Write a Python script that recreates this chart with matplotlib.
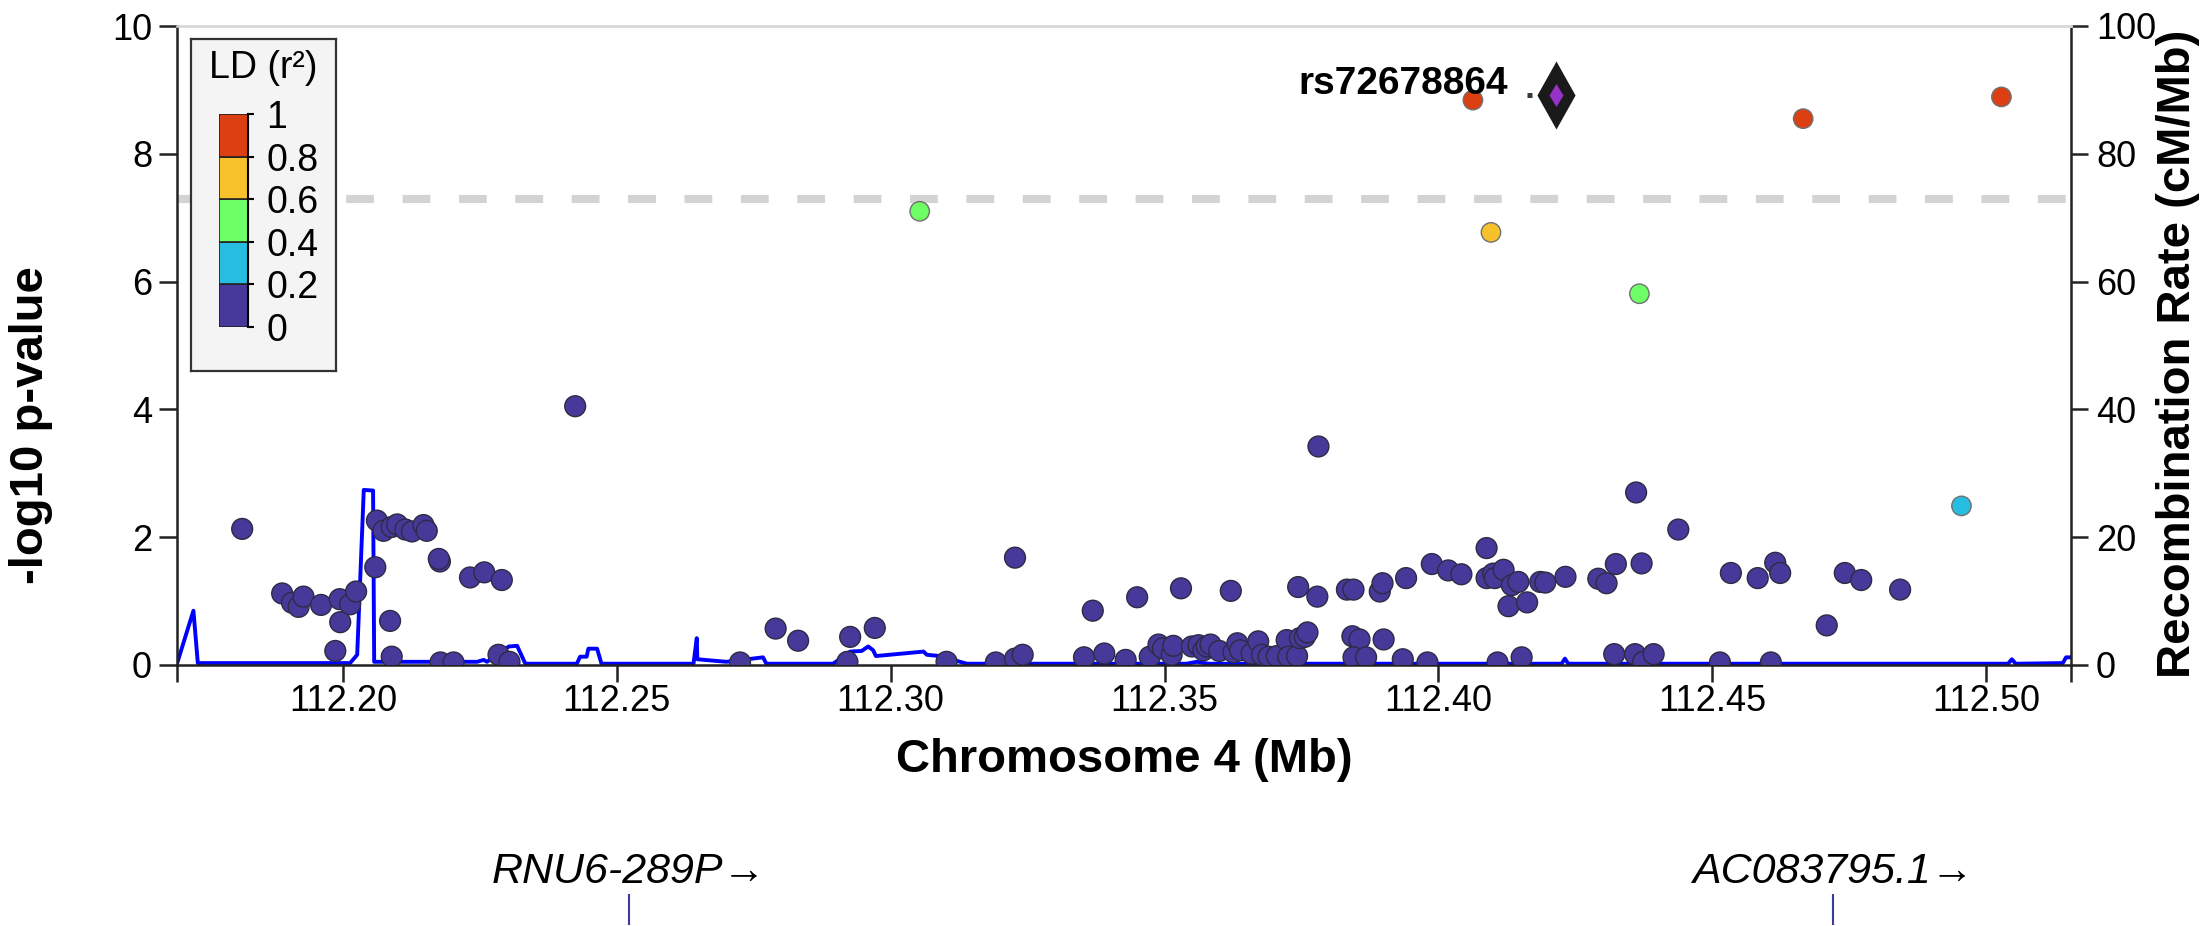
import matplotlib
matplotlib.use('Agg')
import matplotlib.pyplot as plt
from matplotlib.colors import ListedColormap, BoundaryNorm
import numpy as np

plt.rcParams['font.family'] = ['Liberation Sans', 'DejaVu Sans']

# ---------------- data ----------------
snp_pos = [
    112.1816, 112.1889, 112.1907, 112.1919, 112.1928, 112.1960, 112.1994, 112.2013, 112.2024, 112.1995,
    112.1986, 112.2059, 112.2062, 112.2074, 112.2089, 112.2099, 112.2114, 112.2126, 112.2147, 112.2153,
    112.2086, 112.2089, 112.2177, 112.2175, 112.2232, 112.2258, 112.2290, 112.2178, 112.2202, 112.2284,
    112.2304, 112.2424, 112.2725, 112.2790, 112.2831, 112.2921, 112.2926, 112.2971, 112.3102, 112.3192,
    112.3227, 112.3241, 112.3227, 112.3353, 112.3369, 112.3390, 112.3429, 112.3450, 112.3473, 112.3489,
    112.3497, 112.3513, 112.3516, 112.3530, 112.3550, 112.3562, 112.3571, 112.3577, 112.3584, 112.3600,
    112.3621, 112.3626, 112.3633, 112.3638, 112.3659, 112.3671, 112.3678, 112.3690, 112.3705, 112.3723,
    112.3726, 112.3742, 112.3747, 112.3756, 112.3761, 112.3744, 112.3779, 112.3781, 112.3833, 112.3845,
    112.3893, 112.3898, 112.3941, 112.3988, 112.4018, 112.4042, 112.4088, 112.4088, 112.4100, 112.4103,
    112.4119, 112.4134, 112.4146, 112.4128, 112.4162, 112.4186, 112.4195, 112.4232, 112.4292, 112.4307,
    112.4324, 112.4361, 112.4371, 112.4438, 112.3843, 112.3856, 112.3900, 112.3845, 112.3868, 112.3935,
    112.3980, 112.4108, 112.4152, 112.4321, 112.4359, 112.4374, 112.4393, 112.4514, 112.4534, 112.4583,
    112.4615, 112.4624, 112.4607, 112.4709, 112.4742, 112.4772, 112.4843,
    112.4955, 112.3053, 112.4367, 112.4096, 112.4063, 112.4666, 112.5028,
]
snp_logp = [
    2.13, 1.12, 0.975, 0.91, 1.07, 0.94, 1.03, 0.95, 1.15, 0.67,
    0.22, 1.53, 2.26, 2.10, 2.16, 2.20, 2.12, 2.09, 2.19, 2.10,
    0.69, 0.13, 1.62, 1.66, 1.37, 1.45, 1.33, 0.04, 0.04, 0.16,
    0.05, 4.05, 0.04, 0.57, 0.38, 0.05, 0.44, 0.58, 0.05, 0.04,
    0.10, 0.16, 1.68, 0.12, 0.85, 0.18, 0.08, 1.06, 0.13, 0.32,
    0.26, 0.16, 0.30, 1.20, 0.29, 0.31, 0.23, 0.29, 0.32, 0.22,
    1.16, 0.20, 0.34, 0.23, 0.18, 0.37, 0.16, 0.13, 0.14, 0.39,
    0.13, 0.14, 0.42, 0.44, 0.51, 1.22, 1.07, 3.42, 1.18, 1.18,
    1.15, 1.28, 1.36, 1.58, 1.48, 1.42, 1.83, 1.36, 1.43, 1.36,
    1.49, 1.25, 1.30, 0.92, 0.98, 1.30, 1.29, 1.38, 1.35, 1.28,
    1.58, 2.70, 1.59, 2.12, 0.45, 0.40, 0.40, 0.12, 0.12, 0.09,
    0.04, 0.04, 0.12, 0.17, 0.17, 0.05, 0.17, 0.04, 1.44, 1.36,
    1.60, 1.44, 0.04, 0.62, 1.44, 1.33, 1.18,
    2.49, 7.10, 5.81, 6.77, 8.84, 8.55, 8.89,
]
snp_r2 = [0.1] * 127 + [0.3, 0.5, 0.5, 0.7, 0.9, 0.9, 0.9]

lead_name = 'rs72678864'
lead_pos = 112.4214
lead_logp = 8.92

recomb_pos = [112.1697, 112.1727, 112.1735, 112.2013, 112.2026, 112.2038, 112.2055, 112.2057,
              112.2245, 112.2257, 112.2263, 112.2303, 112.2318, 112.2333, 112.2427, 112.2433,
              112.2445, 112.2448, 112.2464, 112.2472, 112.2640, 112.2646, 112.2647, 112.2700,
              112.2767, 112.2773, 112.2895, 112.2926, 112.2947, 112.2959, 112.2968, 112.2973,
              112.3060, 112.3066, 112.3090, 112.3139, 112.3540, 112.3559, 112.3580, 112.4225,
              112.4231, 112.4237, 112.5040, 112.5047, 112.5054, 112.5140, 112.5146, 112.5155]
recomb_rate = [0.2, 8.5, 0.3, 0.3, 1.6, 27.4, 27.3, 0.5,
               0.5, 0.8, 0.5, 2.9, 3.0, 0.2, 0.2, 1.3,
               1.3, 2.55, 2.55, 0.2, 0.2, 4.2, 0.9, 0.5,
               1.2, 0.2, 0.2, 2.1, 2.2, 2.9, 2.3, 1.4,
               2.1, 1.6, 1.4, 0.2, 0.2, 0.5, 0.2, 0.2,
               1.0, 0.2, 0.2, 0.9, 0.2, 0.3, 1.2, 1.2]

ld_bounds = [0, 0.2, 0.4, 0.6, 0.8, 1.0]
ld_labels = ['0', '0.2', '0.4', '0.6', '0.8', '1']
ld_colors = ['#47399A', '#27BDE0', '#6EFE65', '#F7C12C', '#DB3F12']

gene_names = ['RNU6-289P', 'AC083795.1']
gene_pos = [112.2522, 112.4720]

x_ticks = [112.20, 112.25, 112.30, 112.35, 112.40, 112.45, 112.50]
x_range = [112.1697, 112.5155]
y_ticks = [0, 2, 4, 6, 8, 10]
recomb_ticks = [0, 20, 40, 60, 80, 100]
threshold = 7.3

# ---------------- figure ----------------
W, H = 2203, 926
fig = plt.figure(figsize=(W / 100, H / 100), dpi=100)
L, R, T, B = 177, 2071, 26, 665
ax = fig.add_axes([L / W, 1 - B / H, (R - L) / W, (B - T) / H])
ax2 = ax.twinx()
ax.set_zorder(ax2.get_zorder() + 1)
ax.patch.set_visible(False)

# recombination line
ax2.plot(recomb_pos, recomb_rate, color='#0000FF', lw=2.8, zorder=2)
ax2.set_ylim(0, 100)
ax2.set_yticks(recomb_ticks)
ax2.set_yticklabels([str(t) for t in recomb_ticks])

# threshold
ax.axhline(threshold, color='#d3d3d3', lw=5.8, ls=(0, (3.45, 3.55)), zorder=1)

# points
pos = np.array(snp_pos)
lp = np.array(snp_logp)
r2 = np.array(snp_r2)
order = np.argsort(r2, kind='stable')
cmap = ListedColormap(ld_colors)
norm = BoundaryNorm(ld_bounds, cmap.N)
ec = np.where(r2[order] < 0.2, '#2c2c44', '#707070')
sizes = np.where(r2[order] < 0.2, 225, 195)
ax.scatter(pos[order], lp[order], c=r2[order], cmap=cmap, norm=norm, s=sizes,
           edgecolors=ec, linewidths=1.0, zorder=3)

# lead SNP
ax.plot([lead_pos - 0.0052, lead_pos], [lead_logp, lead_logp], ls=':', color='#3a3a3a',
        lw=3.6, zorder=4)
outer = [(0, 1), (0.56, 0), (0, -1), (-0.56, 0), (0, 1)]
ax.plot([lead_pos], [lead_logp], marker=outer, ms=49, color='#1a1a1a', mew=0, zorder=5)
ax.plot([lead_pos], [lead_logp], marker=[(0, 1), (0.61, 0), (0, -1), (-0.61, 0), (0, 1)],
        ms=16.5, color='#9632C8', mew=0, zorder=6)
ax.text(lead_pos - 0.0087, lead_logp + 0.18, lead_name, ha='right', va='center', fontsize=28,
        fontweight='bold', zorder=7)

ax.set_xlim(*x_range)
ax.set_ylim(0, 10)
ax.set_xticks(x_ticks)
ax.set_xticklabels([f'{t:.2f}' for t in x_ticks])
ax.set_xticks(x_range, minor=True)
ax.set_yticks(y_ticks)
ax.set_yticklabels([str(t) for t in y_ticks])

for a in (ax, ax2):
    for s in a.spines.values():
        s.set_linewidth(1.8)
        s.set_color('#222222')
    a.spines['top'].set_color('#d9d9d9')
ax.spines['right'].set_visible(False)
ax2.spines['left'].set_visible(False)
ax2.spines['bottom'].set_visible(False)

ax.tick_params(axis='x', which='both', length=12, width=1.8, labelsize=26, pad=2, color='#222222')
ax.tick_params(axis='y', length=13, width=1.8, labelsize=26, pad=5, color='#222222')
ax2.tick_params(axis='y', length=12, width=1.8, labelsize=26, pad=6, color='#222222')

fig.text(31 / W, 1 - 425 / H, '-log10 p-value', rotation=90, ha='center', va='center',
         fontsize=34, fontweight='bold')
fig.text(2178 / W, 1 - 354 / H, 'Recombination Rate (cM/Mb)', rotation=90, ha='center',
         va='center', fontsize=34, fontweight='bold')
fig.text(1124 / W, 1 - 760 / H, 'Chromosome 4 (Mb)', ha='center', va='center',
         fontsize=34, fontweight='bold')

# legend box
ax_l = fig.add_axes([191 / W, 1 - 371 / H, 145 / W, 332 / H], zorder=5)
ax_l.set_facecolor('#f4f4f4')
ax_l.set_xticks([])
ax_l.set_yticks([])
for s in ax_l.spines.values():
    s.set_color('#333333')
    s.set_linewidth(1.6)
ax_l.text(0.5, 1 - (68 - 39) / 332, 'LD (r²)', ha='center', va='center', fontsize=27,
          transform=ax_l.transAxes)

ax_cb = fig.add_axes([219 / W, 1 - 327 / H, 29 / W, 213 / H], zorder=6)
ax_cb.bar(0, np.diff(ld_bounds), bottom=ld_bounds[:-1], width=1, color=ld_colors,
          edgecolor='#222222', linewidth=1.2)
ax_cb.set_xlim(-0.5, 0.5)
ax_cb.set_ylim(0, 1)
ax_cb.set_facecolor('none')
for k in ('top', 'bottom', 'left'):
    ax_cb.spines[k].set_visible(False)
ax_cb.spines['right'].set_linewidth(1.5)
ax_cb.yaxis.tick_right()
ax_cb.set_yticks(ld_bounds)
ax_cb.set_yticklabels(ld_labels)
ax_cb.set_xticks([])
ax_cb.tick_params(axis='y', length=4, width=1.5, labelsize=27, pad=9)

# gene track
ax_g = fig.add_axes([L / W, 0, (R - L) / W, 86 / H])
ax_g.set_xlim(*x_range)
ax_g.set_ylim(0, 1)
ax_g.axis('off')
ax_g.vlines(gene_pos, 0.01, 0.372, color='#3b3b9b', lw=1.5)
for name, gp in zip(gene_names, gene_pos):
    ax_g.text(gp, 0.628, name + '→', ha='center', va='center', style='italic', fontsize=31)

fig.savefig('out.png', dpi=100)
